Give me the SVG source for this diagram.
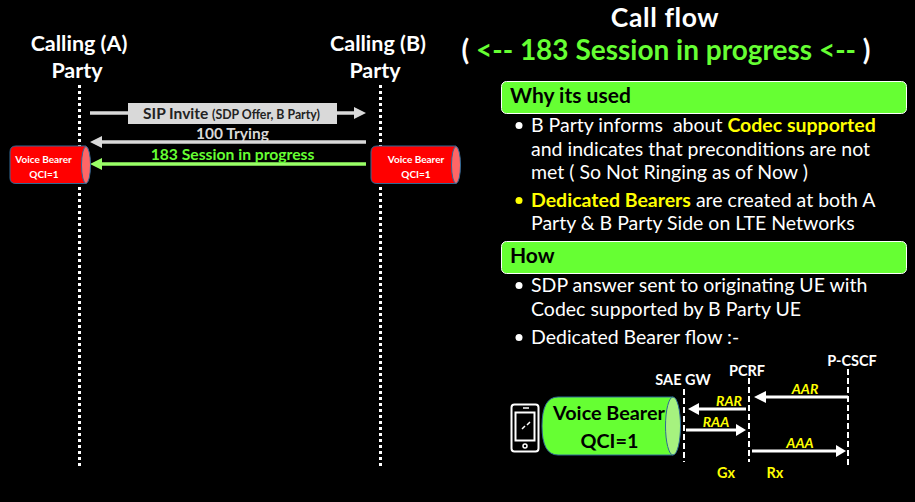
<svg xmlns="http://www.w3.org/2000/svg" width="915" height="502" viewBox="0 0 915 502">
<style>
text{font-family:Lato,"Open Sans",sans-serif;fill:#fff}
.b{font-weight:700}
.h{font-size:21.5px;font-weight:700;text-anchor:middle}
.t{font-size:19.5px;white-space:pre}
.y{fill:#ffff00;font-weight:700}
.life{stroke:#fff;stroke-width:3;stroke-dasharray:3 3;fill:none}
.life2{stroke:#fff;stroke-width:2;stroke-dasharray:6 3;fill:none}
.ar{stroke:#fff;stroke-width:3;fill:none}
.lab{fill:#ffff00;font-weight:700;font-style:italic;font-size:14px;text-anchor:middle}
.nm{font-size:14.5px;font-weight:700;text-anchor:middle}
.gb{fill:#66ff33;stroke:#fff;stroke-width:1}
.cyl{fill:#ff0000;stroke:#2f6a96;stroke-width:1}
.cap{fill:#ff6666;stroke:#2f6a96;stroke-width:1}
.vb{font-size:10px;font-weight:700;text-anchor:middle}
</style>
<rect width="915" height="502" fill="#000"/>
<g id="title">
<text class="b" x="665" y="26.500" font-size="26.500" letter-spacing="0.600" text-anchor="middle">Call flow</text>
<text class="b" x="666" y="60" font-size="28" text-anchor="middle">( <tspan fill="#66ff33">&lt;-- 183 Session in progress &lt;--</tspan> )</text>
</g>
<g id="party-a"><text class="h" x="79" y="51">Calling (A)</text><text class="h" x="77" y="78">Party</text></g>
<g id="party-b"><text class="h" x="378" y="51">Calling (B)</text><text class="h" x="375" y="78">Party</text></g>
<g id="connectors">
<path class="life" d="M79.500 85V467M380.500 85V467"/>
<path d="M90 113H354" stroke="#d9d9d9" stroke-width="3.500"/><path d="M354 107L366 113L354 119Z" fill="#d9d9d9"/>
<path d="M366 142H102" stroke="#d9d9d9" stroke-width="3.500"/><path d="M102 136L90 142L102 148Z" fill="#d9d9d9"/>
<path d="M366 164H102" stroke="#99ff66" stroke-width="3.500"/><path d="M102 158L90 164L102 170Z" fill="#99ff66"/>
<path class="life2" d="M684 389V462M749 378V462M848 369V466"/>
<path class="ar" d="M848 397H766"/><path d="M766 391L754 397L766 403Z" fill="#fff"/>
<path class="ar" d="M746 409H699"/><path d="M699 403L688 409L699 415Z" fill="#fff"/>
<path class="ar" d="M686 430H736"/><path d="M736 424L746 430L736 436Z" fill="#fff"/>
<path class="ar" d="M752 451H836"/><path d="M836 445L846 451L836 457Z" fill="#fff"/>
</g>
<g id="sip-invite-label"><rect x="128" y="103" width="209" height="21" fill="#d9d9d9"/><text x="231.500" y="119" text-anchor="middle" font-size="15.500" font-weight="700" style="fill:#222">SIP Invite <tspan font-size="12.300">(SDP Offer, B Party)</tspan></text></g>
<g id="trying-label"><text x="232.500" y="139" text-anchor="middle" font-size="15.500" font-weight="700" style="fill:#d9d9d9">100 Trying</text></g>
<g id="session-label"><text x="232.500" y="160" text-anchor="middle" font-size="15.700" font-weight="700" style="fill:#66ff33">183 Session in progress</text></g>
<g id="bearer-a"><path class="cyl" d="M16 146H86V183.500H16Q10 183.500 10 178V152Q10 146 16 146Z"/><ellipse class="cap" cx="86" cy="165" rx="4.500" ry="18.500"/><text class="vb" x="43.500" y="163">Voice Bearer</text><text class="vb" x="44" y="178">QCI=1</text></g>
<g id="bearer-b"><path class="cyl" d="M377 146H456V183.500H377Q371 183.500 371 178V152Q371 146 377 146Z"/><ellipse class="cap" cx="456" cy="165" rx="4.500" ry="18.500"/><text class="vb" x="416" y="163">Voice Bearer</text><text class="vb" x="416" y="178">QCI=1</text></g>
<g id="why"><rect class="gb" x="501.500" y="81.500" width="405" height="32" rx="5"/><text x="510" y="103" font-size="21" font-weight="700" style="fill:#000">Why its used</text></g>
<g id="why-list">
<circle cx="519" cy="125.500" r="3.500" fill="#fff"/>
<text class="t" x="531" y="132">B Party informs  about <tspan class="y">Codec supported</tspan></text>
<text class="t" x="531" y="156">and indicates that preconditions are not</text>
<text class="t" x="531" y="179">met ( So Not Ringing as of Now )</text>
<circle cx="519" cy="200.500" r="3.500" fill="#ffff00"/>
<text class="t" x="531" y="207"><tspan class="y">Dedicated Bearers</tspan> are created at both A</text>
<text class="t" x="531" y="230">Party &amp; B Party Side on LTE Networks</text>
</g>
<g id="how"><rect class="gb" x="501.500" y="241.500" width="405" height="32" rx="5"/><text x="510" y="263" font-size="21" font-weight="700" style="fill:#000">How</text></g>
<g id="how-list">
<circle cx="519" cy="285.500" r="3.500" fill="#fff"/>
<text class="t" x="531" y="292">SDP answer sent to originating UE with</text>
<text class="t" x="531" y="316">Codec supported by B Party UE</text>
<circle cx="519" cy="337.500" r="3.500" fill="#fff"/>
<text class="t" x="531" y="344">Dedicated Bearer flow :-</text>
</g>
<g id="phone" fill="none" stroke="#fff"><rect x="511.500" y="404.500" width="27" height="47" rx="3" stroke-width="2"/><rect x="515.500" y="412.500" width="19" height="28" stroke-width="2"/><circle cx="525" cy="446" r="2" stroke-width="1.500"/><path d="M523 408H529" stroke-width="1.500"/><path d="M522 429L525 426M527 425L530 422" stroke-width="1.500"/></g>
<g id="voice-bearer"><path d="M558 397H673V455H558Q542 455 542 426Q542 397 558 397Z" fill="#66ff33" stroke="#2f6a96"/><ellipse cx="673" cy="426" rx="7.500" ry="29" fill="#a6f27f" stroke="#2f6a96"/><text x="609" y="420" font-size="19.800" font-weight="700" text-anchor="middle" style="fill:#000">Voice Bearer</text><text x="609.500" y="448" font-size="19.800" font-weight="700" text-anchor="middle" style="fill:#000">QCI=1</text></g>
<g id="sae-gw"><text class="nm" x="683" y="385">SAE GW</text></g>
<g id="pcrf"><text class="nm" x="747" y="376">PCRF</text></g>
<g id="p-cscf"><text class="nm" x="852" y="366">P-CSCF</text></g>
<g id="labels">
<text class="lab" x="805" y="394">AAR</text><text class="lab" x="729" y="406">RAR</text><text class="lab" x="716" y="427">RAA</text><text class="lab" x="800" y="448">AAA</text>
<text x="726" y="478" font-size="14.500" font-weight="700" style="fill:#ffff00" text-anchor="middle">Gx</text><text x="775" y="478" font-size="14.500" font-weight="700" style="fill:#ffff00" text-anchor="middle">Rx</text>
</g>
</svg>
